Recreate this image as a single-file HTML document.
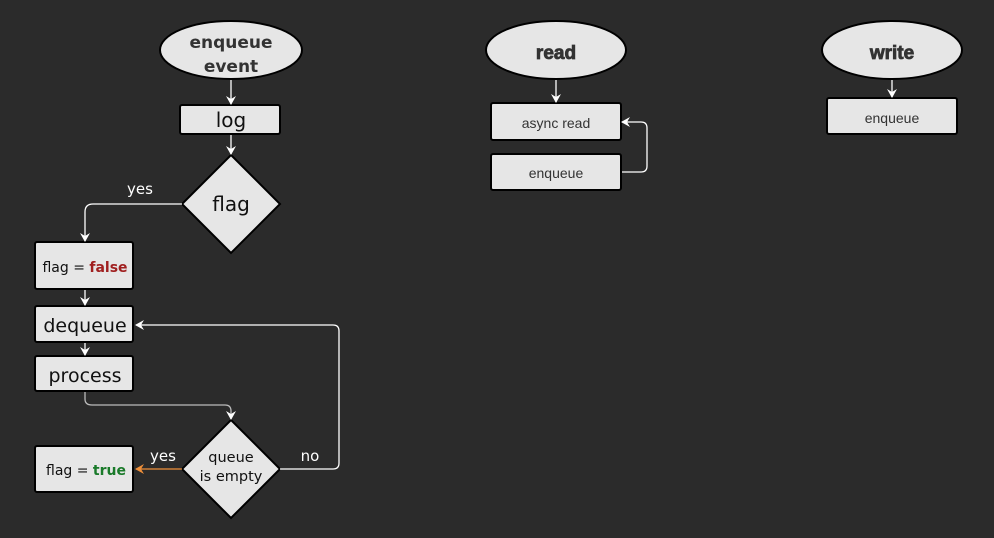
<!DOCTYPE html>
<html><head><meta charset="utf-8"><style>
html,body{margin:0;padding:0;background:#2b2b2b;}
svg{display:block}
text{font-family:"DejaVu Sans","Liberation Sans",sans-serif;}
</style></head><body>
<svg width="994" height="538" viewBox="0 0 994 538" xmlns="http://www.w3.org/2000/svg">
<defs>
<marker id="aw" markerWidth="10" markerHeight="10" refX="8" refY="5" orient="auto" markerUnits="userSpaceOnUse"><path d="M0,0 L9,5 L0,10 L3,5 Z" fill="#fff"/></marker>
<marker id="ao" markerWidth="10" markerHeight="10" refX="8" refY="5" orient="auto" markerUnits="userSpaceOnUse"><path d="M0,0 L9,5 L0,10 L3,5 Z" fill="#f0903a"/></marker>
</defs>
<rect width="994" height="538" fill="#2b2b2b"/>
<g stroke="#000" stroke-width="2" fill="#e6e6e6">
<ellipse cx="231" cy="50" rx="71" ry="29"/>
<rect x="180" y="105" width="100" height="29" rx="2"/>
<polygon points="231,155 280,204 231,253 182,204"/>
<rect x="35" y="242" width="98" height="47" rx="2"/>
<rect x="35" y="306" width="98" height="36" rx="2"/>
<rect x="35" y="356" width="98" height="35" rx="2"/>
<polygon points="231,420 280,469 231,518 182,469"/>
<rect x="35" y="446" width="98" height="46" rx="2"/>
<ellipse cx="556" cy="50" rx="70" ry="29"/>
<rect x="491" y="103" width="130" height="37" rx="2"/>
<rect x="491" y="154" width="130" height="36" rx="2"/>
<ellipse cx="892" cy="50" rx="70" ry="29"/>
<rect x="827" y="98" width="130" height="36" rx="2"/>
</g>
<g fill="none" stroke="#fff" stroke-width="1.3">
<path d="M231,80 V104" marker-end="url(#aw)"/>
<path d="M231,135 V154" marker-end="url(#aw)"/>
<path d="M182,204 H93 Q85,204 85,212 V241" marker-end="url(#aw)"/>
<path d="M85,290 V305" marker-end="url(#aw)"/>
<path d="M85,343 V355" marker-end="url(#aw)"/>
<path d="M85,392 V399 Q85,405 92,405 H225 Q231,405 231,411 V419" stroke="#bbb" marker-end="url(#aw)"/>
<path d="M280,469 H333 Q339,469 339,463 V331 Q339,325 333,325 H136" marker-end="url(#aw)"/>
<path d="M182,469 H136" stroke="#f0903a" marker-end="url(#ao)"/>
<path d="M556,80 V102" marker-end="url(#aw)"/>
<path d="M622,172 H641 Q647,172 647,166 V128 Q647,122 641,122 H622" marker-end="url(#aw)"/>
<path d="M892,80 V97" marker-end="url(#aw)"/>
</g>
<g text-anchor="middle">
<text x="231" y="48" font-size="17" font-weight="bold" fill="#333">enqueue</text>
<text x="231" y="72" font-size="17" font-weight="bold" fill="#333">event</text>
<text x="231" y="127" font-size="20" fill="#111">log</text>
<text x="231" y="211" font-size="20" fill="#111">flag</text>
<text x="85" y="272" font-size="14" fill="#111">flag = <tspan font-weight="bold" fill="#a02020">false</tspan></text>
<text x="85" y="332" font-size="19" fill="#111">dequeue</text>
<text x="85" y="382" font-size="19" fill="#111">process</text>
<text x="231" y="462" font-size="14.5" fill="#111">queue</text>
<text x="231" y="481" font-size="14.5" fill="#111">is empty</text>
<text x="86" y="475" font-size="14" fill="#111">flag = <tspan font-weight="bold" fill="#1a7a2a">true</tspan></text>
<text x="140" y="194" font-size="15" fill="#fff">yes</text>
<text x="163" y="461" font-size="15" fill="#fff">yes</text>
<text x="310" y="461" font-size="15" fill="#fff">no</text>
<text x="556" y="59" font-size="19" font-weight="bold" fill="#333" stroke="#333" stroke-width="0.8" style="font-family:'Liberation Sans',sans-serif">read</text>
<text x="556" y="128" font-size="14" fill="#333" style="font-family:'Liberation Sans',sans-serif">async read</text>
<text x="556" y="178" font-size="14" fill="#333" style="font-family:'Liberation Sans',sans-serif">enqueue</text>
<text x="892" y="59" font-size="19" font-weight="bold" fill="#333" stroke="#333" stroke-width="0.8" style="font-family:'Liberation Sans',sans-serif">write</text>
<text x="892" y="123" font-size="14" fill="#333" style="font-family:'Liberation Sans',sans-serif">enqueue</text>
</g>
</svg>
</body></html>
